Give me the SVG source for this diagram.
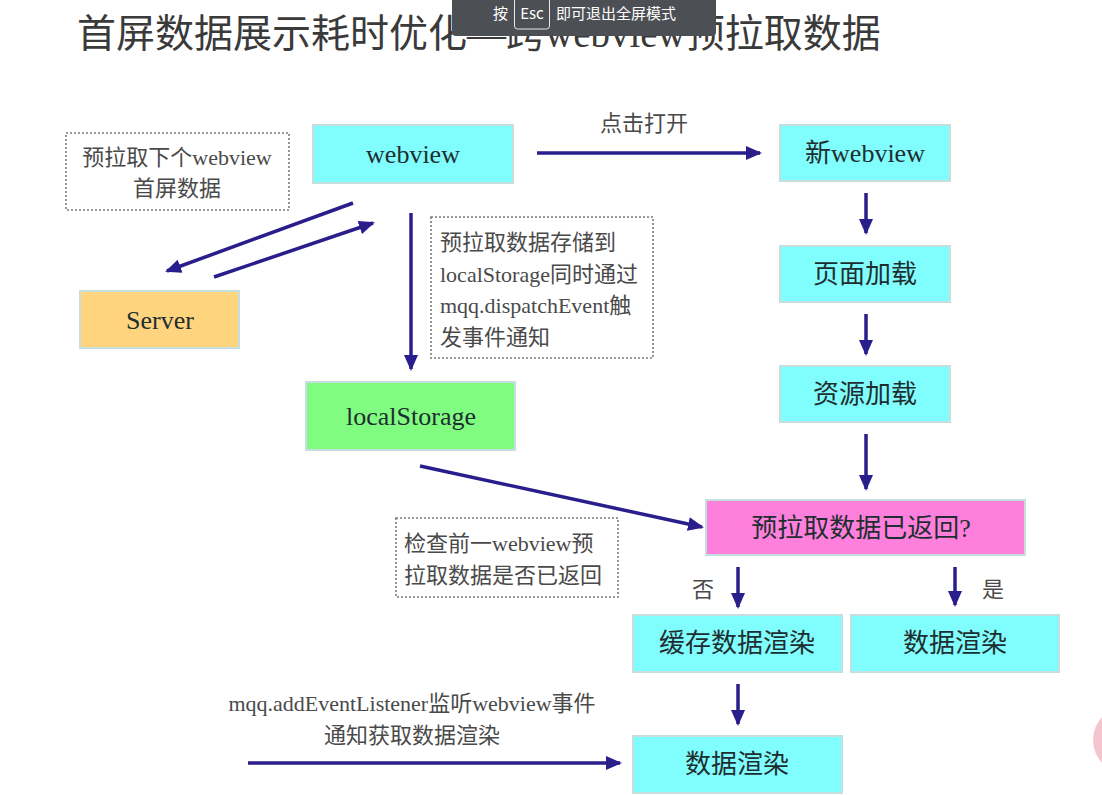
<svg xmlns="http://www.w3.org/2000/svg" width="1102" height="795" viewBox="0 0 1102 795">
<defs>
<marker id="ah" markerUnits="userSpaceOnUse" markerWidth="16" markerHeight="14" refX="14" refY="7" orient="auto">
<path d="M0,0 L16,7 L0,14 Z" fill="#2a1d8c"/>
</marker>
<style>
.title{font-family:"Liberation Serif","Noto Sans CJK SC",serif;font-size:39px;fill:#3a3a3a}
.box{stroke:#c6dede;stroke-width:2}
.cyan{fill:#80fdfd}
.bt{font-family:"Liberation Serif","Noto Sans CJK SC",serif;font-size:26px;fill:#1e2e30;text-anchor:middle}
.note{fill:none;stroke:#7a7a7a;stroke-width:1.6;stroke-dasharray:2 2}
.nt{font-family:"Liberation Serif","Noto Sans CJK SC",serif;font-size:22px;fill:#4a4a4a}
.lbl{font-family:"Liberation Serif","Noto Sans CJK SC",serif;font-size:22px;fill:#4a4a4a}
.conn line{stroke:#2a1d8c;stroke-width:3.5;marker-end:url(#ah)}
.ov{font-family:"Noto Sans CJK SC","Noto Sans",sans-serif;font-size:15px;fill:#ffffff}
</style>
</defs>
<rect width="1102" height="795" fill="#ffffff"/>
<text class="title" x="77" y="47">首屏数据展示耗时优化—跨webview预拉取数据</text>

<g id="note1">
<rect class="note" x="66" y="133" width="223" height="77"/>
<text class="nt" x="177" y="165" text-anchor="middle">预拉取下个webview</text>
<text class="nt" x="177" y="196" text-anchor="middle">首屏数据</text>
</g>
<g id="webview">
<rect class="box cyan" x="313" y="125" width="200" height="58"/>
<text class="bt" x="413" y="163">webview</text>
</g>
<g id="server">
<rect class="box" fill="#fed47e" x="80" y="291" width="159" height="57"/>
<text class="bt" x="160" y="329">Server</text>
</g>
<g id="note2">
<rect class="note" x="431" y="217" width="222" height="141"/>
<text class="nt" x="440" y="250">预拉取数据存储到</text>
<text class="nt" x="440" y="282">localStorage同时通过</text>
<text class="nt" x="440" y="313">mqq.dispatchEvent触</text>
<text class="nt" x="440" y="345">发事件通知</text>
</g>
<g id="localStorage">
<rect class="box" fill="#80fd80" x="306" y="382" width="209" height="68"/>
<text class="bt" x="411" y="425">localStorage</text>
</g>
<g id="newWebview">
<rect class="box cyan" x="780" y="125" width="170" height="56"/>
<text class="bt" x="865" y="162">新webview</text>
</g>
<g id="pageLoad">
<rect class="box cyan" x="780" y="246" width="170" height="56"/>
<text class="bt" x="865" y="283">页面加载</text>
</g>
<g id="resLoad">
<rect class="box cyan" x="780" y="366" width="170" height="56"/>
<text class="bt" x="865" y="403">资源加载</text>
</g>
<g id="decision">
<rect class="box" fill="#ff80dc" x="706" y="500" width="319" height="55"/>
<text class="bt" x="861" y="537">预拉取数据已返回?</text>
</g>
<g id="note3">
<rect class="note" x="396" y="518" width="222" height="79"/>
<text class="nt" x="404" y="551">检查前一webview预</text>
<text class="nt" x="404" y="583">拉取数据是否已返回</text>
</g>
<g id="cacheRender">
<rect class="box cyan" x="633" y="615" width="209" height="57"/>
<text class="bt" x="737" y="652">缓存数据渲染</text>
</g>
<g id="dataRenderYes">
<rect class="box cyan" x="851" y="615" width="208" height="57"/>
<text class="bt" x="955" y="652">数据渲染</text>
</g>
<g id="dataRender">
<rect class="box cyan" x="633" y="736" width="209" height="57"/>
<text class="bt" x="737" y="773">数据渲染</text>
</g>

<g id="connectors" class="conn">
<line x1="353" y1="203" x2="167" y2="271"/>
<line x1="214" y1="277" x2="373" y2="223"/>
<line x1="411" y1="213" x2="411" y2="369"/>
<line x1="537" y1="153" x2="760" y2="153"/>
<line x1="866" y1="193" x2="866" y2="233"/>
<line x1="866" y1="314" x2="866" y2="354"/>
<line x1="866" y1="434" x2="866" y2="489"/>
<line x1="420" y1="466" x2="702" y2="527"/>
<line x1="738" y1="567" x2="738" y2="607"/>
<line x1="955" y1="567" x2="955" y2="605"/>
<line x1="738" y1="684" x2="738" y2="724"/>
<line x1="248" y1="763" x2="620" y2="763"/>
</g>
<g id="labels">
<text class="lbl" x="644" y="131" text-anchor="middle">点击打开</text>
<text class="lbl" x="703" y="597" text-anchor="middle" font-size="20">否</text>
<text class="lbl" x="993" y="597" text-anchor="middle" font-size="20">是</text>
<text class="lbl" x="412" y="711" text-anchor="middle">mqq.addEventListener监听webview事件</text>
<text class="lbl" x="412" y="743" text-anchor="middle">通知获取数据渲染</text>
</g>

<circle cx="1126" cy="740" r="33" fill="#f4c4d0"/>

<g id="overlay">
<rect x="452" y="-6" width="264" height="42" rx="4" fill="#4c4f53"/>
<text class="ov" x="493" y="19">按</text>
<rect x="514.5" y="-2" width="35" height="31" rx="3" fill="none" stroke="#e8e8e8" stroke-width="1"/>
<text class="ov" x="532" y="19" text-anchor="middle">Esc</text>
<text class="ov" x="556" y="19">即可退出全屏模式</text>
</g>
</svg>
